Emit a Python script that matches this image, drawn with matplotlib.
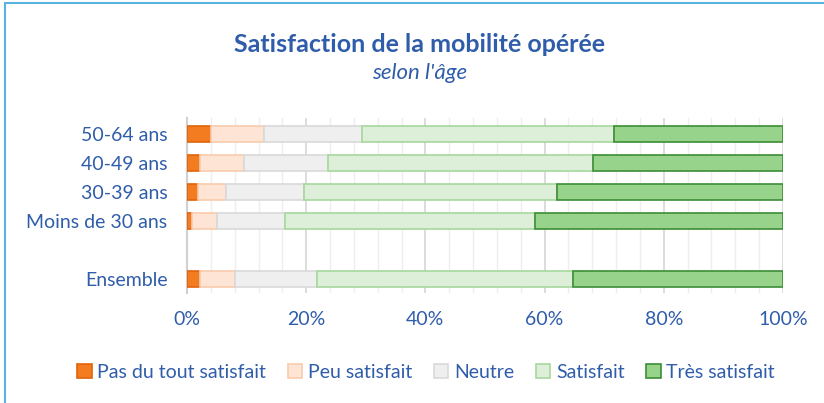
import matplotlib.pyplot as plt
from matplotlib.patches import Rectangle
import numpy as np

plt.rcParams['font.family'] = ['Lato', 'DejaVu Sans']

categories = ['Ensemble', 'Moins de 30 ans', '30-39 ans', '40-49 ans', '50-64 ans']
positions = [0, 2, 3, 4, 5]
series_names = ['Pas du tout satisfait', 'Peu satisfait', 'Neutre', 'Satisfait', 'Très satisfait']
# values in %, same order as categories
pas_du_tout = [2.2, 0.9, 1.8, 2.2, 4.1]
peu = [5.9, 4.1, 4.8, 7.4, 8.9]
neutre = [13.7, 11.5, 13.1, 14.1, 16.4]
satisfait = [43.0, 41.9, 42.4, 44.5, 42.2]
tres = [35.2, 41.6, 37.9, 31.8, 28.4]

face_colors = ['#F47C20', '#FDE4D4', '#EFEFEF', '#DDEFD9', '#97D38A']
edge_colors = ['#E0650A', '#F9CBAE', '#D9D9D9', '#A6D89D', '#3C8E36']
text_blue = '#2F5DAA'

fig = plt.figure(figsize=(8.24, 4.03), dpi=100)
ax = fig.add_axes([187 / 824, 1 - 293 / 403, 596 / 824, 175 / 403])

left = np.zeros(len(categories))
for vals, name, fc, ec in zip([pas_du_tout, peu, neutre, satisfait, tres],
                              series_names, face_colors, edge_colors):
    v = np.array(vals) / 100
    ax.barh(positions, v, left=left, height=0.58, color=fc, edgecolor=ec,
            linewidth=1.2, label=name, zorder=3)
    left += v

ax.set_xlim(0, 1)
ax.set_ylim(-0.48, 5.55)
ax.set_xticks(np.arange(0, 1.01, 0.2))
ax.set_xticklabels([f'{int(round(t * 100))}%' for t in np.arange(0, 1.01, 0.2)])
ax.set_xticks(np.arange(0, 1.001, 0.04), minor=True)
ax.grid(axis='x', which='major', color='#D9D9D9', linewidth=1.3, zorder=0)
ax.grid(axis='x', which='minor', color='#EEEEEE', linewidth=1.0, zorder=0)
ax.set_yticks(positions)
ax.set_yticklabels(categories)
ax.tick_params(axis='both', which='both', length=0, labelsize=14, colors=text_blue)
ax.tick_params(axis='x', pad=13)
ax.tick_params(axis='y', pad=14)
for s in ['top', 'right', 'bottom']:
    ax.spines[s].set_visible(False)
ax.spines['left'].set_color('#D0D0D0')
ax.spines['left'].set_linewidth(1.5)

fig.text(420 / 824, 1 - 44 / 403, 'Satisfaction de la mobilité opérée', ha='center', va='center',
         fontsize=18, fontweight='bold', color=text_blue)
fig.text(420 / 824, 1 - 73 / 403, "selon l'âge", ha='center', va='center',
         fontsize=16, style='italic', color=text_blue)

fig.legend(loc='center', bbox_to_anchor=(426 / 824, 1 - 372 / 403), ncol=5, frameon=False,
           fontsize=14, labelcolor=text_blue, handlelength=0.75, handleheight=0.75,
           handletextpad=0.3, columnspacing=1.1)

fig.patches.append(Rectangle((5 / 824, -0.1), 1.2, 1 - 3 / 403 + 0.1, transform=fig.transFigure,
                             fill=False, edgecolor='#5AB4E0', linewidth=1.5))

fig.savefig('out.png', dpi=100)
